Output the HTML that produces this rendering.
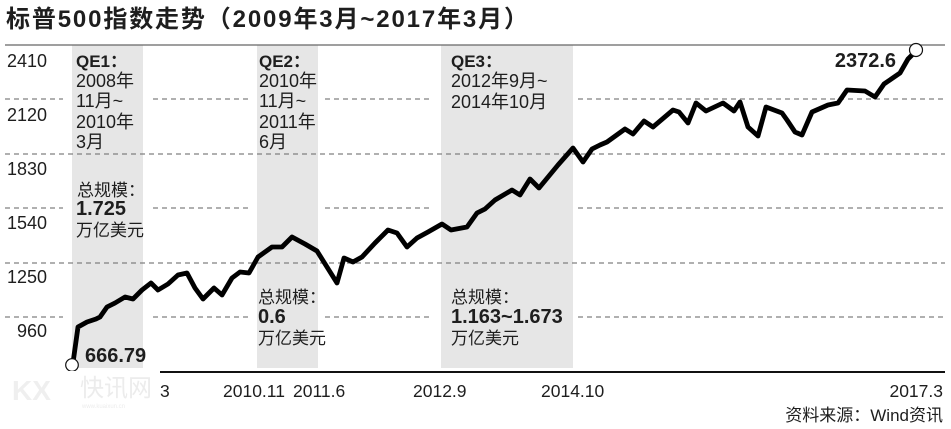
<!DOCTYPE html>
<html><head><meta charset="utf-8"><style>
html,body{margin:0;padding:0;background:#fff;}
svg{display:block;}
text{font-family:"Liberation Sans","Noto Sans CJK SC",sans-serif;fill:#1e1e1e;}
.b{font-weight:bold;}
</style></head><body>
<svg width="951" height="429" viewBox="0 0 951 429" xmlns="http://www.w3.org/2000/svg">
<rect width="951" height="429" fill="#fff"/>
<!-- title -->
<text x="6" y="27" class="b" font-size="24" textLength="522" lengthAdjust="spacing" fill="#111">标普500指数走势（2009年3月~2017年3月）</text>
<!-- bands -->
<rect x="72" y="45" width="71" height="323" fill="#e6e6e6"/>
<rect x="257" y="45" width="61" height="323" fill="#e6e6e6"/>
<rect x="441" y="45" width="132" height="323" fill="#e6e6e6"/>
<!-- top line -->
<line x1="5" y1="45" x2="945" y2="45" stroke="#666" stroke-width="1.3"/>
<!-- grid -->
<g stroke="#808080" stroke-width="1.2" stroke-dasharray="5,4">
<path d="M5 99H63M153 99H251M325 99H433M578 99H945"/>
<path d="M5 208H63M153 208H251M325 208H433M578 208H945"/>
<path d="M5 317H63M153 317H251M325 317H433M578 317H945"/>
<path d="M5 154H945"/>
<path d="M5 263H945"/>
</g>
<!-- baseline -->
<line x1="160" y1="372" x2="945" y2="372" stroke="#111" stroke-width="2"/>
<!-- y labels -->
<g font-size="18" text-anchor="end">
<text x="47" y="67">2410</text>
<text x="47" y="121">2120</text>
<text x="47" y="175">1830</text>
<text x="47" y="229">1540</text>
<text x="47" y="283">1250</text>
<text x="47" y="337">960</text>
</g>
<!-- annotations QE1 -->
<g font-size="18">
<text x="76" y="67" class="b" font-size="17">QE1：</text>
<text x="76" y="87">2008年</text>
<text x="76" y="107">11月~</text>
<text x="76" y="128">2010年</text>
<text x="76" y="148">3月</text>
<text x="77" y="196" font-size="17">总规模：</text>
<text x="76" y="215" class="b" font-size="20">1.725</text>
<text x="76" y="236" font-size="17">万亿美元</text>
</g>
<!-- QE2 -->
<g font-size="18">
<text x="259" y="67" class="b" font-size="17">QE2：</text>
<text x="259" y="87">2010年</text>
<text x="259" y="107">11月~</text>
<text x="259" y="128">2011年</text>
<text x="259" y="148">6月</text>
<text x="258" y="303" font-size="17">总规模：</text>
<text x="258" y="323" class="b" font-size="20">0.6</text>
<text x="258" y="344" font-size="17">万亿美元</text>
</g>
<!-- QE3 -->
<g font-size="18">
<text x="451" y="67" class="b" font-size="17">QE3：</text>
<text x="451" y="87">2012年9月~</text>
<text x="451" y="108">2014年10月</text>
<text x="451" y="303" font-size="17">总规模：</text>
<text x="451" y="323" class="b" font-size="20">1.163~1.673</text>
<text x="451" y="344" font-size="17">万亿美元</text>
</g>
<!-- series -->
<polyline fill="none" stroke="#000" stroke-width="4.8" stroke-linejoin="round" stroke-linecap="round"
points="72.7,365 78,327 87,322 96,319 100,317 107,307 115,303 125,297 133,299 142,290 151,283 158,290 168,284 178,275 187,273 195,288 203,299 214,288 222,295 232,278 240,272 249,273 258,257 272,247 282,247 292,237 305,244 317,251 337,283 344,258 353,262 362,257 375,243 388,230 397,233 407,247 417,238 428,232 442,224 451,230 467,227 477,213 485,209 495,200 512,190 520,195 530,179 539,188 558,165 573,148 583,162 592,149 600,145 607,142 625,129 633,134 644,121 653,127 673,110 679,112 688,123 696,103 706,111 723,103 734,111 740,102 748,127 758,136 766,107 782,113 787,120 795,132 802,135 812,112 828,105 838,103 847,90 865,91 875,97 884,84 900,73 908,59 916,51"/>
<circle cx="72" cy="365" r="6.3" fill="#fff" stroke="#111" stroke-width="1.2"/>
<circle cx="916" cy="50" r="6.5" fill="#fff" stroke="#111" stroke-width="1.2"/>
<text x="85" y="362" class="b" font-size="20">666.79</text>
<text x="896" y="67" class="b" font-size="20" text-anchor="end">2372.6</text>
<!-- watermark -->
<rect x="0" y="371" width="160" height="40" fill="#fff"/>
<text x="12" y="400" font-size="28" class="b" style="fill:#efefef">KX</text>
<text x="80" y="396" font-size="24" style="fill:#ececec">快讯网</text>
<text x="82" y="408" font-size="6" style="fill:#ececec">www.kuaixun.cn</text>
<!-- x labels -->
<g font-size="17.5">
<text x="160" y="397">3</text>
<text x="223" y="397">2010.11</text>
<text x="293" y="397">2011.6</text>
<text x="413" y="397">2012.9</text>
<text x="541" y="397">2014.10</text>
<text x="943" y="397" text-anchor="end">2017.3</text>
</g>
<text x="943" y="421" font-size="17" text-anchor="end">资料来源：Wind资讯</text>
</svg>
</body></html>
